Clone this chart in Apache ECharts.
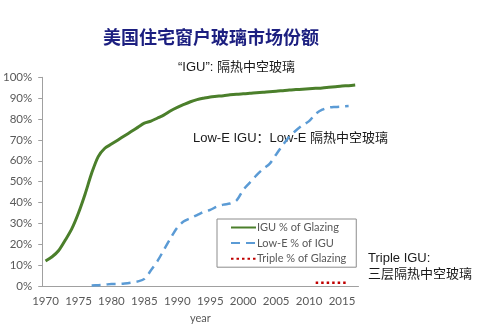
<!DOCTYPE html>
<html>
<head>
<meta charset="utf-8">
<script src="https://cdn.jsdelivr.net/npm/echarts@6/dist/echarts.min.js"></script>
<style>
html,body{margin:0;padding:0;background:#fff;}
#chart{width:502px;height:330px;}
</style>
</head>
<body>
<div id="chart"></div>
<script>
var years = ['1970','1971','1972','1973','1974','1975','1976','1977','1978','1979',
  '1980','1981','1982','1983','1984','1985','1986','1987','1988','1989',
  '1990','1991','1992','1993','1994','1995','1996','1997','1998','1999',
  '2000','2001','2002','2003','2004','2005','2006','2007','2008','2009',
  '2010','2011','2012','2013','2014','2015','2016','2017'];

var iguShare = [12, 14, 17, 22, 27.5, 35, 44, 54, 62, 66,
  68, 70, 72, 74, 76, 78, 79, 80.5, 82, 84,
  85.6, 87, 88.3, 89.3, 90, 90.6, 90.9, 91.2, 91.6, 91.9,
  92.1, 92.3, 92.6, 92.8, 93.1, 93.3, 93.6, 93.9, 94.1, 94.3,
  94.5, 94.7, 94.9, 95.2, 95.5, 95.8, 96, 96.3];

var lowEShare = [null, null, null, null, null, null, null, 0.2, 0.4, 0.6,
  1.0, 1.0, 1.2, 1.6, 2.2, 3.4, 7.5, 12, 17.5, 23,
  28, 31, 32.5, 34, 35.5, 36.5, 38, 39, 39.5, 41,
  46, 49.5, 53, 56, 58.5, 63, 67.5, 71.5, 74.5, 77,
  79, 82.5, 84.5, 85.5, 85.8, 86, 86.2, null];

var tripleShare = [null, null, null, null, null, null, null, null, null, null,
  null, null, null, null, null, null, null, null, null, null,
  null, null, null, null, null, null, null, null, null, null,
  null, null, null, null, null, null, null, null, null, null,
  null, 1.5, 1.5, 1.5, 1.5, 1.5, 1.5, null];

var seriesNames = ['IGU % of Glazing', 'Low-E % of IGU', 'Triple % of Glazing'];
var titleText = '美国住宅窗户玻璃市场份额';
var noteIGU = '“IGU”: 隔热中空玻璃';
var noteLowE = 'Low-E IGU：Low-E 隔热中空玻璃';
var noteTriple1 = 'Triple IGU:';
var noteTriple2 = '三层隔热中空玻璃';

var latin = 'Lato, "Noto Sans", sans-serif';
var noteFont = '"Liberation Sans", "Noto Sans CJK SC", sans-serif';

var chart = echarts.init(document.getElementById('chart'), null, {renderer: 'canvas'});
chart.setOption({
  animation: false,
  backgroundColor: '#ffffff',
  title: {
    text: titleText,
    left: 206, top: 23, textAlign: 'center',
    textStyle: {fontSize: 18, fontWeight: 'bold', color: '#1c1f80',
      fontFamily: '"Noto Sans CJK SC", sans-serif'}
  },
  grid: {left: 40, right: 143.5, top: 77.3, bottom: 44, containLabel: false},
  legend: {
    orient: 'vertical',
    left: 217, top: 219,
    padding: [3, 10, 3, 13],
    itemGap: 4.6,
    itemWidth: 25, itemHeight: 12,
    borderColor: '#8c8c8c', borderWidth: 1,
    itemStyle: {opacity: 0},
    textStyle: {fontSize: 11, color: '#595959', fontFamily: latin, padding: [0,0,0,-4]},
    data: seriesNames
  },
  xAxis: {
    type: 'category',
    data: years,
    boundaryGap: true,
    name: 'year',
    nameLocation: 'middle',
    nameGap: 27,
    nameTextStyle: {fontSize: 11, color: '#595959', fontFamily: latin},
    axisLine: {lineStyle: {color: '#a0a0a0', width: 1}},
    axisTick: {interval: 4, alignWithLabel: false, length: 4, lineStyle: {color: '#a0a0a0'}},
    axisLabel: {interval: 4, fontSize: 11.5, color: '#595959', fontFamily: latin, margin: 9},
    splitLine: {show: false}
  },
  yAxis: {
    type: 'value',
    min: 0, max: 100, interval: 10,
    axisLine: {show: true, lineStyle: {color: '#a0a0a0', width: 1}},
    axisTick: {show: true, length: 4, lineStyle: {color: '#a0a0a0'}},
    axisLabel: {formatter: '{value}%', fontSize: 11.5, color: '#595959', fontFamily: latin, margin: 10},
    splitLine: {show: false}
  },
  series: [
    {
      name: seriesNames[0], type: 'line', data: iguShare,
      smooth: 0.3, symbol: 'none', connectNulls: false,
      lineStyle: {color: '#4b7f2b', width: 3},
      itemStyle: {color: '#4b7f2b'}
    },
    {
      name: seriesNames[1], type: 'line', data: lowEShare,
      smooth: 0.3, symbol: 'none',
      lineStyle: {color: '#5b9bd5', width: 2.5, type: [9, 6]},
      itemStyle: {color: '#5b9bd5'}
    },
    {
      name: seriesNames[2], type: 'line', data: tripleShare,
      symbol: 'none',
      lineStyle: {color: '#c00000', width: 2.5, type: [2.5, 3]},
      itemStyle: {color: '#c00000'}
    }
  ],
  graphic: [
    {type: 'text', left: 178, top: 61, style: {text: noteIGU, fill: '#1a1a1a', font: '13px ' + noteFont}},
    {type: 'text', left: 193, top: 132, style: {text: noteLowE, fill: '#1a1a1a', font: '13px ' + noteFont}},
    {type: 'text', left: 368, top: 252, style: {text: noteTriple1, fill: '#1a1a1a', font: '13px ' + noteFont}},
    {type: 'text', left: 368, top: 268, style: {text: noteTriple2, fill: '#1a1a1a', font: '13px ' + noteFont}}
  ]
});
</script>
</body>
</html>
